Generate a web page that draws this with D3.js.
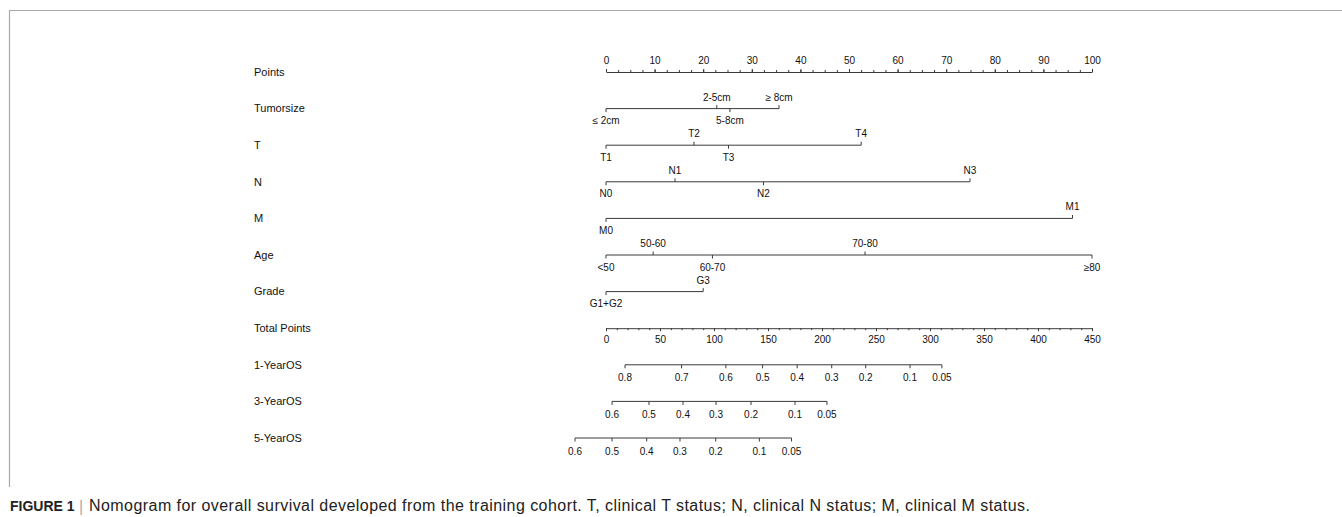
<!DOCTYPE html>
<html lang="en">
<head>
<meta charset="UTF-8">
<title>Nomogram</title>
<script src="https://cdn.jsdelivr.net/npm/d3@7"></script>
<style>
  body { margin: 0; background: #fff; }
  svg { display: block; font-family: "Liberation Sans", Arial, sans-serif; }
</style>
</head>
<body>
<svg id="chart" width="1342" height="517"></svg>
<script>
// row names, top to bottom
var rowNames = ["Points", "Tumorsize", "T", "N", "M", "Age", "Grade",
                "Total Points", "1-YearOS", "3-YearOS", "5-YearOS"];

// predictor levels and their points (0-100 scale)
var tumorLevels = ["≤ 2cm", "2-5cm", "5-8cm", "≥ 8cm"];
var tumorPoints = [0, 22.8, 25.5, 35.6];
var tLevels = ["T1", "T2", "T3", "T4"];
var tPoints = [0, 18.1, 25.2, 52.5];
var nLevels = ["N0", "N1", "N2", "N3"];
var nPoints = [0, 14.2, 32.4, 74.9];
var mLevels = ["M0", "M1"];
var mPoints = [0, 96.0];
var ageLevels = ["<50", "50-60", "60-70", "70-80", "≥80"];
var agePoints = [0, 9.7, 21.9, 53.3, 100];
var gradeLevels = ["G1+G2", "G3"];
var gradePoints = [0, 20.0];

// survival probabilities and the total points they sit at
var os1Labels = ["0.8", "0.7", "0.6", "0.5", "0.4", "0.3", "0.2", "0.1", "0.05"];
var os1Total = [17.6, 70, 111, 145, 177, 209, 240.5, 281.5, 311];
var os3Labels = ["0.6", "0.5", "0.4", "0.3", "0.2", "0.1", "0.05"];
var os3Total = [5.6, 39.8, 71.3, 101.9, 134.3, 175, 204.6];
var os5Labels = ["0.6", "0.5", "0.4", "0.3", "0.2", "0.1", "0.05"];
var os5Total = [-28.7, 5.6, 37.7, 68.5, 101.6, 142, 171.8];

var svg = d3.select("#chart");
var ink = "#3a3a3a";

// frame
svg.append("path")
    .attr("d", "M9.5,487 V10.5 H1342")
    .attr("fill", "none")
    .attr("stroke", "#a8a8a8")
    .attr("stroke-width", 1.2);

var x = d3.scaleLinear().domain([0, 100]).range([606, 1092]);
var xTot = d3.scaleLinear().domain([0, 450]).range([606, 1092]);
var y = d3.scaleLinear().domain([0, rowNames.length - 1]).range([72, 438]);

// row titles
svg.selectAll(".rowname")
    .data(rowNames)
    .enter()
    .append("text")
    .attr("class", "rowname")
    .attr("x", 254)
    .attr("y", (d, i) => y(i))
    .attr("dy", "0.35em")
    .style("font-size", "11px")
    .style("fill", "#111")
    .text(d => d);

function styleAxis(g) {
    g.selectAll("path, line").attr("stroke", ink);
    g.selectAll("text").style("font-size", "10px").style("fill", "#111")
        .style("font-family", "'Liberation Sans', Arial, sans-serif");
}

// Points scale
svg.append("g")
    .attr("transform", "translate(0," + y(0) + ")")
    .call(d3.axisTop(x).tickValues(d3.range(0, 101, 2.5)).tickFormat("").tickSize(2).tickSizeOuter(0))
    .call(styleAxis);
svg.append("g")
    .attr("transform", "translate(0," + y(0) + ")")
    .call(d3.axisTop(x).tickValues(d3.range(0, 101, 10)).tickSize(3).tickPadding(5).tickSizeOuter(0))
    .call(styleAxis)
    .call(g => g.select(".domain").remove());

// Total points scale
svg.append("g")
    .attr("transform", "translate(0," + y(7) + ")")
    .call(d3.axisBottom(xTot).tickValues(d3.range(0, 451, 10)).tickFormat("").tickSize(2).tickSizeOuter(0))
    .call(styleAxis);
svg.append("g")
    .attr("transform", "translate(0," + y(7) + ")")
    .call(d3.axisBottom(xTot).tickValues(d3.range(0, 451, 50)).tickSize(3).tickPadding(5).tickSizeOuter(0))
    .call(styleAxis)
    .call(g => g.select(".domain").remove());

// predictor rows: labels alternate below / above
function predictorRow(row, levels, pts) {
    var g = svg.append("g").attr("transform", "translate(0," + y(row) + ")");
    g.append("line")
        .attr("x1", x(d3.min(pts))).attr("x2", x(d3.max(pts)))
        .attr("stroke", ink).attr("stroke-width", 1);
    var items = levels.map((l, i) => ({ label: l, p: pts[i], up: i % 2 === 1 }));
    g.selectAll(".tk").data(items).enter().append("line")
        .attr("x1", d => x(d.p)).attr("x2", d => x(d.p))
        .attr("y1", 0).attr("y2", d => d.up ? -3.5 : 3.5)
        .attr("stroke", ink);
    g.selectAll(".lb").data(items).enter().append("text")
        .attr("x", d => x(d.p))
        .attr("y", d => d.up ? -11.5 : 12)
        .attr("dy", "0.35em")
        .attr("text-anchor", "middle")
        .style("font-size", "10px")
        .style("fill", "#111")
        .text(d => d.label);
}

predictorRow(1, tumorLevels, tumorPoints);
predictorRow(2, tLevels, tPoints);
predictorRow(3, nLevels, nPoints);
predictorRow(4, mLevels, mPoints);
predictorRow(5, ageLevels, agePoints);
predictorRow(6, gradeLevels, gradePoints);

// survival rows
function survivalRow(row, labels, tot) {
    var g = svg.append("g").attr("transform", "translate(0," + y(row) + ")");
    g.append("line")
        .attr("x1", xTot(d3.min(tot))).attr("x2", xTot(d3.max(tot)))
        .attr("stroke", ink);
    var items = labels.map((l, i) => ({ label: l, t: tot[i] }));
    g.selectAll(".tk").data(items).enter().append("line")
        .attr("x1", d => xTot(d.t)).attr("x2", d => xTot(d.t))
        .attr("y1", 0).attr("y2", 3.5)
        .attr("stroke", ink);
    g.selectAll(".lb").data(items).enter().append("text")
        .attr("x", d => xTot(d.t))
        .attr("y", 13)
        .attr("dy", "0.35em")
        .attr("text-anchor", "middle")
        .style("font-size", "10px")
        .style("fill", "#111")
        .text(d => d.label);
}

survivalRow(8, os1Labels, os1Total);
survivalRow(9, os3Labels, os3Total);
survivalRow(10, os5Labels, os5Total);

// caption
svg.append("text")
    .attr("x", 10).attr("y", 511)
    .style("font-size", "14px").style("font-weight", "bold").style("fill", "#222")
    .text("FIGURE 1");
svg.append("text")
    .attr("x", 79).attr("y", 512)
    .style("font-size", "16px").style("fill", "#aaa")
    .text("|");
svg.append("text")
    .attr("x", 89).attr("y", 511)
    .attr("textLength", 941)
    .attr("lengthAdjust", "spacing")
    .style("font-size", "16px").style("fill", "#222")
    .text("Nomogram for overall survival developed from the training cohort. T, clinical T status; N, clinical N status; M, clinical M status.");
</script>
</body>
</html>
